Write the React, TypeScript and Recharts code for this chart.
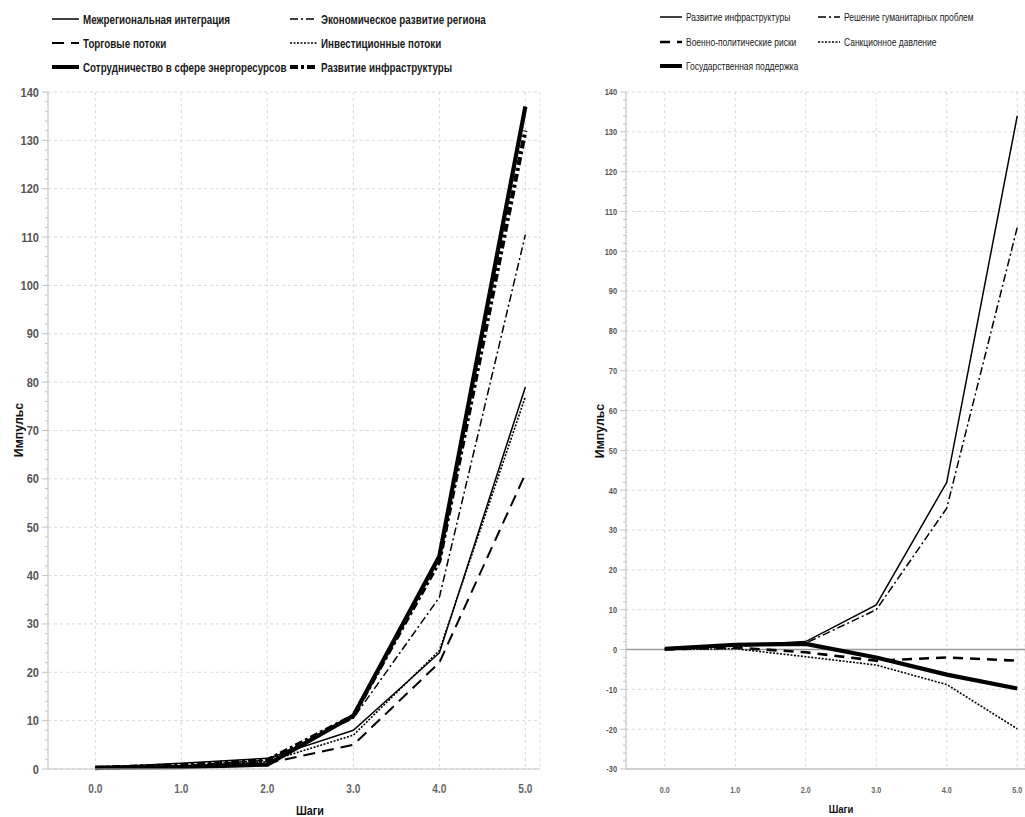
import React from 'react';
import { LineChart, Line, XAxis, YAxis, CartesianGrid, ReferenceLine } from 'recharts';

// steps on the x axis
const steps = [0, 1, 2, 3, 4, 5];
const xTicks = [0, 1, 2, 3, 4, 5];

// left chart series
const integration = [0.3, 1.2, 2.2, 8, 24, 79];
const economy = [0.2, 0.7, 1.8, 10.5, 35.5, 110.5];
const trade = [0.2, 0.5, 1.2, 5, 22, 61];
const investment = [0.2, 0.6, 1.5, 7, 24.5, 77];
const energy = [0.3, 0.4, 0.9, 11, 44, 137];
const infraLeft = [0.2, 0.8, 1.8, 11, 43, 132];

// right chart series
const infraRight = [0.3, 1.0, 2.0, 11.2, 42, 134];
const humanitarian = [0.2, 0.8, 1.6, 10, 35.5, 106];
const military = [0, 0.5, -0.7, -2.8, -2, -2.8];
const sanctions = [0, 0.2, -1.8, -3.9, -8.8, -19.9];
const govSupport = [0.2, 1.2, 1.4, -2, -6.3, -9.8];

const leftMajor = [0, 10, 20, 30, 40, 50, 60, 70, 80, 90, 100, 110, 120, 130, 140];
const rightMajor = [-30, -20, -10, 0, 10, 20, 30, 40, 50, 60, 70, 80, 90, 100, 110, 120, 130, 140];

const minorTicks = (from: number, to: number) => {
  const out: number[] = [];
  for (let v = from; v <= to; v += 2) out.push(v);
  return out;
};

const leftData = steps.map((s, i) => ({
  step: s,
  integration: integration[i],
  economy: economy[i],
  trade: trade[i],
  investment: investment[i],
  energy: energy[i],
  infra: infraLeft[i],
}));

const rightData = steps.map((s, i) => ({
  step: s,
  infra: infraRight[i],
  humanitarian: humanitarian[i],
  military: military[i],
  sanctions: sanctions[i],
  gov: govSupport[i],
}));

type Style = { width: number; dash?: string };

const STYLES: Record<string, Style> = {
  solid: { width: 1.5 },
  dashDot: { width: 1.5, dash: '8 3 2 3' },
  dashed: { width: 2, dash: '12 7' },
  dotted: { width: 1.6, dash: '2 1.5' },
  thick: { width: 4.2 },
  thickDashDot: { width: 4.2, dash: '8 3 3 3' },
};

const leftSeries = [
  { key: 'integration', name: 'Межрегиональная интеграция', style: STYLES.solid },
  { key: 'economy', name: 'Экономическое развитие региона', style: STYLES.dashDot },
  { key: 'trade', name: 'Торговые потоки', style: STYLES.dashed },
  { key: 'investment', name: 'Инвестиционные потоки', style: STYLES.dotted },
  { key: 'energy', name: 'Сотрудничество в сфере энергоресурсов', style: STYLES.thick },
  { key: 'infra', name: 'Развитие инфраструктуры', style: STYLES.thickDashDot },
];

const rightSeries = [
  { key: 'infra', name: 'Развитие инфраструктуры', style: STYLES.solid },
  { key: 'humanitarian', name: 'Решение гуманитарных проблем', style: STYLES.dashDot },
  { key: 'military', name: 'Военно-политические риски', style: { width: 2.6, dash: '10 7' } },
  { key: 'sanctions', name: 'Санкционное давление', style: STYLES.dotted },
  { key: 'gov', name: 'Государственная поддержка', style: STYLES.thick },
];

const FONT = '"Liberation Sans", Arial, sans-serif';
const GRID = '#d9d9d9';
const AXIS = '#c4c4c4';

// condensed svg text (no narrow font installed, so squeeze horizontally)
function SqText({ x, y, anchor, size, sx, color, children, weight }: any) {
  return (
    <text
      transform={`translate(${x},${y}) scale(${sx},1)`}
      x={0}
      y={0}
      dy="0.35em"
      textAnchor={anchor}
      fontSize={size}
      fill={color}
      fontFamily={FONT}
      fontWeight={weight || 'normal'}
    >
      {children}
    </text>
  );
}

function makeYTick(major: number[], size: number, sx: number, tickSize: number, tickMargin: number) {
  return (props: any) => {
    const { x, y, payload } = props;
    const axisX = x + tickSize + tickMargin;
    const isMajor = major.includes(payload.value);
    return (
      <g>
        <line x1={axisX - (isMajor ? 6 : 3)} x2={axisX} y1={y} y2={y} stroke={AXIS} strokeWidth={1} />
        {isMajor && (
          <SqText x={x} y={y} anchor="end" size={size} sx={sx} color="#555" weight="bold">
            {payload.value}
          </SqText>
        )}
      </g>
    );
  };
}

function makeXTick(size: number, sx: number, offset: number) {
  return (props: any) => {
    const { x, y, payload } = props;
    return (
      <SqText x={x} y={y + offset} anchor="middle" size={size} sx={sx} color="#666" weight="bold">
        {Number(payload.value).toFixed(1)}
      </SqText>
    );
  };
}

function LegendBlock({
  items,
  left,
  top,
  colX,
  rowGap,
  sampleW,
  fontSize,
  sx,
  weight,
}: {
  items: { name: string; style: Style }[];
  left: number;
  top: number;
  colX: number;
  rowGap: number;
  sampleW: number;
  fontSize: number;
  sx: number;
  weight: string;
}) {
  return (
    <>
      {items.map((it, i) => {
        const col = i % 2;
        const row = Math.floor(i / 2);
        return (
          <div
            key={it.name}
            style={{
              position: 'absolute',
              left: left + col * colX,
              top: top + row * rowGap - 8,
              height: 16,
              display: 'flex',
              alignItems: 'center',
              whiteSpace: 'nowrap',
              fontFamily: FONT,
              fontSize,
              fontWeight: weight as any,
              color: '#1a1a1a',
            }}
          >
            <svg width={sampleW} height={8} style={{ marginRight: 4, flex: 'none' }}>
              <line
                x1={0}
                x2={sampleW}
                y1={4}
                y2={4}
                stroke="#000"
                strokeWidth={Math.min(it.style.width, 4)}
                strokeDasharray={it.style.dash}
              />
            </svg>
            <span style={{ display: 'inline-block', transform: `scaleX(${sx})`, transformOrigin: 'left center' }}>
              {it.name}
            </span>
          </div>
        );
      })}
    </>
  );
}

const titleStyle = (size: number): React.CSSProperties => ({
  position: 'absolute',
  fontFamily: FONT,
  fontWeight: 'bold',
  fontSize: size,
  color: '#111',
  whiteSpace: 'nowrap',
});

export default function App() {
  const tickSize = 5;
  const tickMargin = 4;

  return (
    <div style={{ position: 'absolute', left: 0, top: 0, width: 1025, height: 817, background: '#fff', overflow: 'hidden' }}>
      {/* left chart */}
      <div style={{ position: 'absolute', left: 0, top: 0 }}>
        <LineChart width={545} height={817} data={leftData} margin={{ top: 92, right: 5, left: 0, bottom: 0 }}>
          <CartesianGrid stroke={GRID} strokeDasharray="3 3" horizontalValues={leftMajor} />
          <XAxis
            dataKey="step"
            type="number"
            domain={[-0.55, 5.17]}
            ticks={xTicks}
            tickLine={false}
            tickSize={0}
            tickMargin={0}
            height={48}
            axisLine={{ stroke: AXIS }}
            tick={makeXTick(13, 0.78, 19)}
            allowDataOverflow
          />
          <YAxis
            type="number"
            domain={[0, 140]}
            ticks={minorTicks(0, 140)}
            width={48}
            tickLine={false}
            tickSize={tickSize}
            tickMargin={tickMargin}
            axisLine={{ stroke: AXIS }}
            tick={makeYTick(leftMajor, 13, 0.85, tickSize, tickMargin)}
            interval={0}
          />
          {leftSeries.map((s) => (
            <Line
              key={s.key}
              dataKey={s.key}
              name={s.name}
              type="linear"
              stroke="#000"
              strokeWidth={s.style.width}
              strokeDasharray={s.style.dash}
              dot={false}
              isAnimationActive={false}
            />
          ))}
        </LineChart>
      </div>

      {/* right chart */}
      <div style={{ position: 'absolute', left: 545, top: 0 }}>
        <LineChart width={480} height={817} data={rightData} margin={{ top: 92, right: 0, left: 0, bottom: 0 }}>
          <CartesianGrid stroke={GRID} strokeDasharray="3 3" horizontalValues={rightMajor} />
          <XAxis
            dataKey="step"
            type="number"
            domain={[-0.55, 5.11]}
            ticks={xTicks}
            tickLine={false}
            tickSize={0}
            tickMargin={0}
            height={48}
            axisLine={{ stroke: AXIS, strokeWidth: 1.5 }}
            tick={makeXTick(9.5, 0.75, 21)}
            allowDataOverflow
          />
          <YAxis
            type="number"
            domain={[-30, 140]}
            ticks={minorTicks(-30, 140)}
            width={81}
            tickLine={false}
            tickSize={tickSize}
            tickMargin={tickMargin}
            axisLine={{ stroke: AXIS }}
            tick={makeYTick(rightMajor, 9.5, 0.78, tickSize, tickMargin)}
            interval={0}
          />
          <ReferenceLine y={0} stroke="#9a9a9a" strokeWidth={1.5} />
          {rightSeries.map((s) => (
            <Line
              key={s.key}
              dataKey={s.key}
              name={s.name}
              type="linear"
              stroke="#000"
              strokeWidth={s.style.width}
              strokeDasharray={s.style.dash}
              dot={false}
              isAnimationActive={false}
            />
          ))}
        </LineChart>
      </div>

      {/* legends */}
      <LegendBlock items={leftSeries} left={52} top={19} colX={238} rowGap={24} sampleW={27} fontSize={13} sx={0.755} weight="bold" />
      <LegendBlock items={rightSeries} left={660} top={17} colX={158} rowGap={24.5} sampleW={22} fontSize={11} sx={0.77} weight="normal" />

      {/* axis titles */}
      <div style={{ ...titleStyle(13), left: 18, top: 430, transform: 'translate(-50%, -50%) rotate(-90deg) scaleX(0.95)' }}>
        Импульс
      </div>
      <div style={{ ...titleStyle(13), left: 599, top: 431, transform: 'translate(-50%, -50%) rotate(-90deg) scaleX(0.95)' }}>
        Импульс
      </div>
      <div style={{ ...titleStyle(13), left: 310, top: 810, transform: 'translate(-50%, -50%) scaleX(0.83)' }}>
        Шаги
      </div>
      <div style={{ ...titleStyle(11.5), left: 841, top: 809, transform: 'translate(-50%, -50%) scaleX(0.83)' }}>
        Шаги
      </div>
    </div>
  );
}
